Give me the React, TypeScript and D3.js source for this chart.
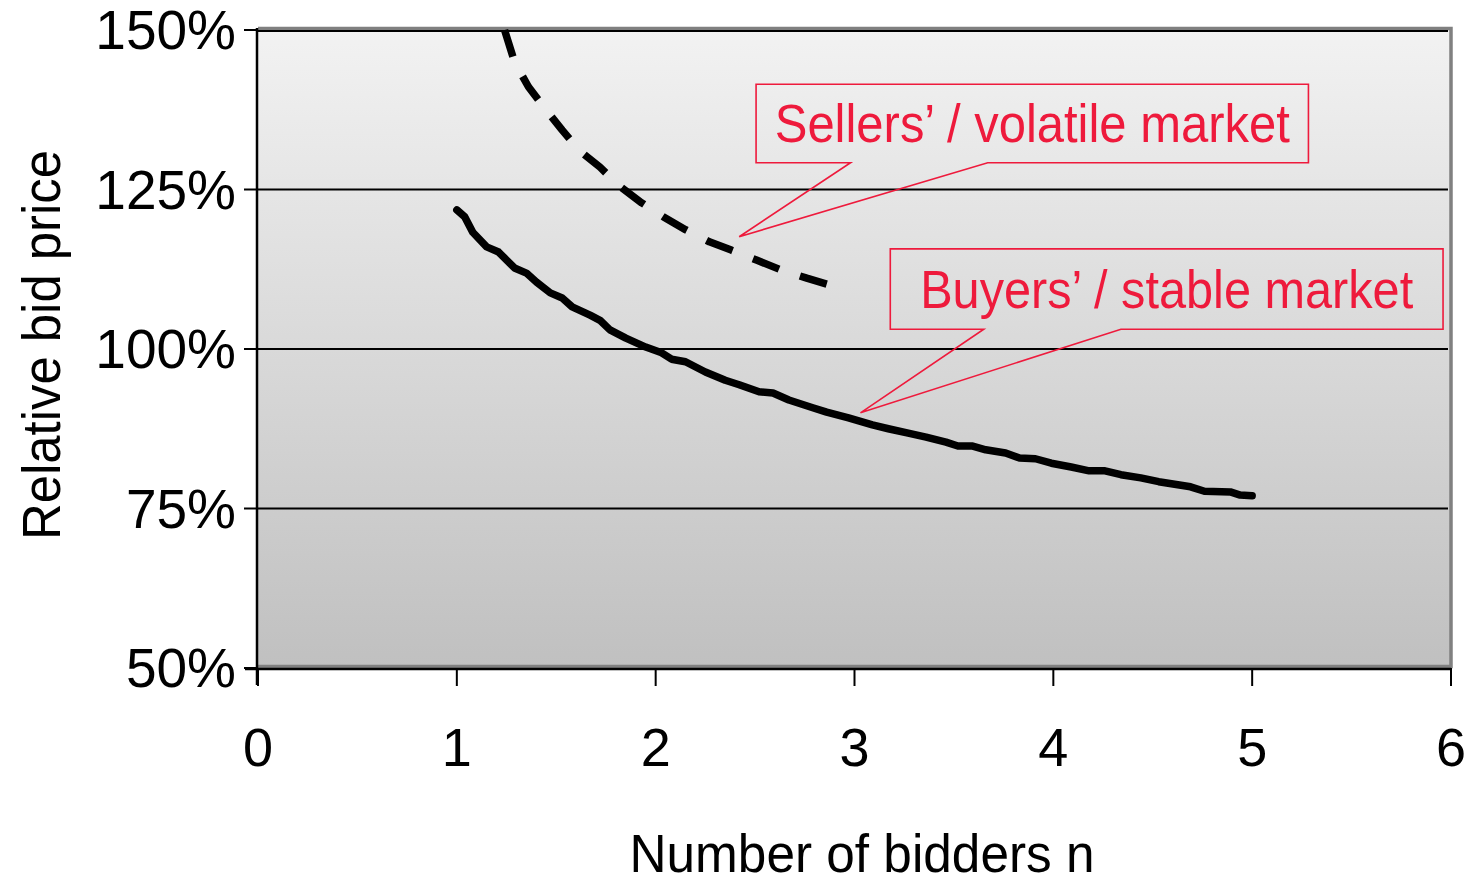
import React from "react";
import * as d3 from "d3";

// Buyers' / stable market (solid)
const stableN = [1.0, 1.04, 1.08, 1.15, 1.21, 1.29, 1.35, 1.4, 1.47, 1.53, 1.58, 1.67, 1.72, 1.77, 1.85, 1.95, 2.03, 2.08, 2.15, 2.25, 2.35, 2.42, 2.52, 2.59, 2.67, 2.79, 2.86, 2.97, 3.09, 3.17, 3.27, 3.36, 3.46, 3.52, 3.59, 3.66, 3.76, 3.83, 3.91, 3.99, 4.09, 4.18, 4.26, 4.34, 4.44, 4.53, 4.61, 4.69, 4.76, 4.89, 4.94, 5.0];
const stablePrice = [121.8, 120.7, 118.3, 116.0, 115.2, 112.7, 111.9, 110.5, 108.8, 108.0, 106.6, 105.3, 104.5, 103.0, 101.7, 100.3, 99.4, 98.4, 98.0, 96.4, 95.1, 94.4, 93.3, 93.1, 92.0, 90.8, 90.1, 89.2, 88.1, 87.5, 86.8, 86.2, 85.4, 84.8, 84.8, 84.2, 83.7, 82.9, 82.8, 82.1, 81.5, 80.9, 80.9, 80.3, 79.8, 79.2, 78.8, 78.4, 77.7, 77.6, 77.1, 77.0];

// Sellers' / volatile market (dashed)
const volatileN = [1.24, 1.29, 1.36, 1.44, 1.53, 1.62, 1.72, 1.82, 1.93, 2.04, 2.15, 2.27, 2.38, 2.51, 2.63, 2.76, 2.88, 2.95];
const volatilePrice = [150.0, 145.0, 141.1, 137.8, 134.3, 131.0, 128.5, 125.5, 122.9, 120.7, 118.7, 116.8, 115.5, 113.9, 112.4, 111.1, 110.0, 109.2];

const xTicks = [0, 1, 2, 3, 4, 5, 6];
const yTicks = [50, 75, 100, 125, 150];
const yTickLabels = ["50%", "75%", "100%", "125%", "150%"];

const xTitle = "Number of bidders n";
const yTitle = "Relative bid price";

const calloutLabels = ["Sellers\u2019 / volatile market", "Buyers\u2019 / stable market"];
const calloutBoxX = [[2.505, 5.283], [3.18, 5.96]];
const calloutBoxY = [[141.5, 129.2], [115.7, 103.1]];
const calloutBase = [[2.98, 3.67], [3.65, 4.34]];
const calloutTip = [[2.42, 117.6], [3.03, 90.0]];
const calloutTextWidth = [515, 493];

const FONT = "'Liberation Sans', Arial, sans-serif";
const RED = "#ee1a3c";

export default function App() {
  const W = 1479, H = 888;
  const x = d3.scaleLinear().domain([0, 6]).range([258, 1451]);
  const y = d3.scaleLinear().domain([50, 150]).range([668, 30]);

  const line = d3.line<[number, number]>().x(d => x(d[0])).y(d => y(d[1])).curve(d3.curveLinear);
  const stablePts = stableN.map((n, i) => [n, stablePrice[i]] as [number, number]);
  const volatilePts = volatileN.map((n, i) => [n, volatilePrice[i]] as [number, number]);

  const x0 = x(0), x1 = x(6), yTop = y(150), yBot = y(50);

  return (
    <svg width={W} height={H} style={{ position: "fixed", left: 0, top: 0, background: "#fff" }} fontFamily={FONT}>
      <defs>
        <linearGradient id="bg" x1="0" y1="0" x2="0" y2="1">
          <stop offset="0" stopColor="#f2f2f2" />
          <stop offset="1" stopColor="#c0c0c0" />
        </linearGradient>
      </defs>
      <rect x={x0} y={yTop} width={x1 - x0} height={yBot - yTop} fill="url(#bg)" />
      <path d={`M${x0},${yTop - 1.5}H${x1}V${yBot - 1.5}H${x0}`} fill="none" stroke="#808080" strokeWidth={3.5} />
      {yTicks.filter(t => t > 50).map(t => (
        <line key={t} x1={x0} x2={x1 - 3} y1={y(t) + (t === 150 ? 1 : 0)} y2={y(t) + (t === 150 ? 1 : 0)} stroke="#000" strokeWidth={2} />
      ))}
      <line x1={x0 - 1} x2={x0 - 1} y1={yTop - 2} y2={yBot + 17} stroke="#000" strokeWidth={2.5} />
      <line x1={x0 - 13} x2={x1} y1={yBot + 1} y2={yBot + 1} stroke="#000" strokeWidth={2.5} />
      {yTicks.map((t, i) => (
        <g key={t}>
          <line x1={x0 - 14} x2={x0} y1={y(t)} y2={y(t)} stroke="#000" strokeWidth={2} />
          <text x={236} y={y(t) + 19} textAnchor="end" fontSize={55} fill="#000">{yTickLabels[i]}</text>
        </g>
      ))}
      {xTicks.map(t => (
        <g key={t}>
          <line x1={x(t)} x2={x(t)} y1={yBot} y2={yBot + 18} stroke="#000" strokeWidth={2} />
          <text x={x(t)} y={766} textAnchor="middle" fontSize={54} fill="#000">{t}</text>
        </g>
      ))}
      <text x={862} y={872} textAnchor="middle" fontSize={54} textLength={465} lengthAdjust="spacingAndGlyphs" fill="#000">{xTitle}</text>
      <text transform={`translate(60,345) rotate(-90)`} textAnchor="middle" fontSize={54} textLength={390} lengthAdjust="spacingAndGlyphs" fill="#000">{yTitle}</text>

      <path d={line(stablePts) || ""} fill="none" stroke="#000" strokeWidth={7.5} strokeLinejoin="round" strokeLinecap="round" />
      <path d={line(volatilePts) || ""} fill="none" stroke="#000" strokeWidth={7.5} strokeDasharray="28 22" strokeLinejoin="round" />

      {calloutLabels.map((lab, i) => {
        const [l, r] = calloutBoxX[i].map(v => x(v));
        const [t, b] = calloutBoxY[i].map(v => y(v));
        const [b1, b2] = calloutBase[i].map(v => x(v));
        const tx = x(calloutTip[i][0]), ty = y(calloutTip[i][1]);
        const d = `M${l},${t}H${r}V${b}H${b2}L${tx},${ty}L${b1},${b}H${l}Z`;
        return (
          <g key={lab}>
            <path d={d} fill="none" stroke={RED} strokeWidth={1.6} />
            <text x={(l + r) / 2} y={t + (b - t) * 0.73} textAnchor="middle" fontSize={53} fill={RED}
              textLength={calloutTextWidth[i]} lengthAdjust="spacingAndGlyphs">{lab}</text>
          </g>
        );
      })}
    </svg>
  );
}
